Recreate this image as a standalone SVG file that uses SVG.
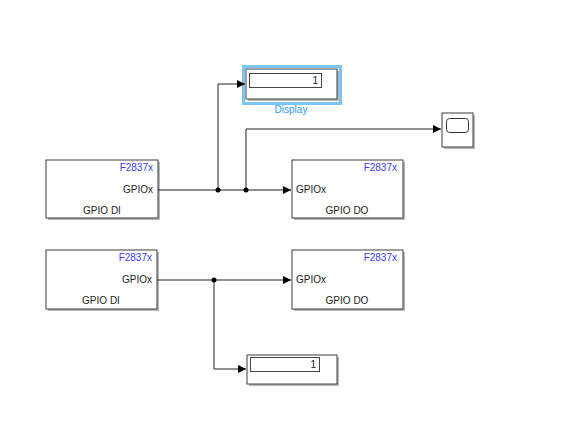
<svg xmlns="http://www.w3.org/2000/svg" width="573" height="445" viewBox="0 0 573 445">
<style>
.blk{fill:#fff;stroke:#3c3c3c;stroke-width:1}
.sh{fill:#b8b8b8}
.t{font-family:"Liberation Sans",Arial,sans-serif;font-size:10px;fill:#222}
.tb{font-family:"Liberation Sans",Arial,sans-serif;font-size:10px;fill:#3a3af0}
.w{fill:none;stroke:#222;stroke-width:1}
.dot{fill:#000}
</style>
<defs>
<marker id="ar" markerWidth="8" markerHeight="8" refX="8" refY="4" orient="auto" markerUnits="userSpaceOnUse">
<path d="M0,0 L8,4 L0,8 z" fill="#000"/>
</marker>
</defs>
<rect width="573" height="445" fill="#fff"/>
<g id="di1">
<rect class="sh" x="48" y="162" width="112" height="58"/>
<rect class="blk" x="46" y="160" width="112" height="58"/>
<text class="tb" x="153" y="171" text-anchor="end">F2837x</text>
<text class="t" x="153" y="193" text-anchor="end">GPIOx</text>
<text class="t" x="102" y="214" text-anchor="middle">GPIO DI</text>
</g>
<g id="do1">
<rect class="sh" x="294" y="162" width="111" height="58"/>
<rect class="blk" x="292" y="160" width="111" height="58"/>
<text class="tb" x="397" y="171" text-anchor="end">F2837x</text>
<text class="t" x="296" y="193">GPIOx</text>
<text class="t" x="347" y="214" text-anchor="middle">GPIO DO</text>
</g>
<g id="di2">
<rect class="sh" x="48" y="252" width="111" height="59"/>
<rect class="blk" x="46" y="250" width="111" height="59"/>
<text class="tb" x="152" y="261" text-anchor="end">F2837x</text>
<text class="t" x="152" y="283" text-anchor="end">GPIOx</text>
<text class="t" x="101" y="304" text-anchor="middle">GPIO DI</text>
</g>
<g id="do2">
<rect class="sh" x="294" y="252" width="111" height="59"/>
<rect class="blk" x="292" y="250" width="111" height="59"/>
<text class="tb" x="397" y="261" text-anchor="end">F2837x</text>
<text class="t" x="296" y="283">GPIOx</text>
<text class="t" x="347" y="304" text-anchor="middle">GPIO DO</text>
</g>
<g id="display1">
<rect x="243.5" y="66.5" width="97" height="37" fill="none" stroke="#7cc4f4" stroke-width="3"/>
<rect class="sh" x="248" y="71" width="91" height="30"/>
<rect class="blk" x="246" y="69" width="91" height="30"/>
<rect x="249.5" y="73.5" width="72" height="14" fill="#fff" stroke="#444" stroke-width="1"/>
<text class="t" x="318" y="84" text-anchor="end">1</text>
<text x="291" y="113" text-anchor="middle" font-family="Liberation Sans, Arial, sans-serif" font-size="10" fill="#3399ee">Display</text>
</g>
<g id="scope">
<rect class="sh" x="444" y="115" width="31" height="34"/>
<rect class="blk" x="442" y="113" width="31" height="34"/>
<rect x="446.5" y="118.5" width="22" height="14" rx="3" fill="#fff" stroke="#333" stroke-width="1"/>
</g>
<g id="display2">
<rect class="sh" x="249" y="357" width="90" height="29"/>
<rect class="blk" x="247" y="355" width="90" height="29"/>
<rect x="250.5" y="357.5" width="69" height="14" fill="#fff" stroke="#444" stroke-width="1"/>
<text class="t" x="316" y="368" text-anchor="end">1</text>
</g>
<g id="connectors">
<path class="w" d="M158,190 H291" marker-end="url(#ar)"/>
<path class="w" d="M218,190 V84 H245" marker-end="url(#ar)"/>
<path class="w" d="M246,190 V129 H441" marker-end="url(#ar)"/>
<circle class="dot" cx="218" cy="190" r="2.5"/>
<circle class="dot" cx="246" cy="190" r="2.5"/>
<path class="w" d="M157,280 H291" marker-end="url(#ar)"/>
<path class="w" d="M214,280 V369 H246" marker-end="url(#ar)"/>
<circle class="dot" cx="214" cy="280" r="2.5"/>
</g>
</svg>
